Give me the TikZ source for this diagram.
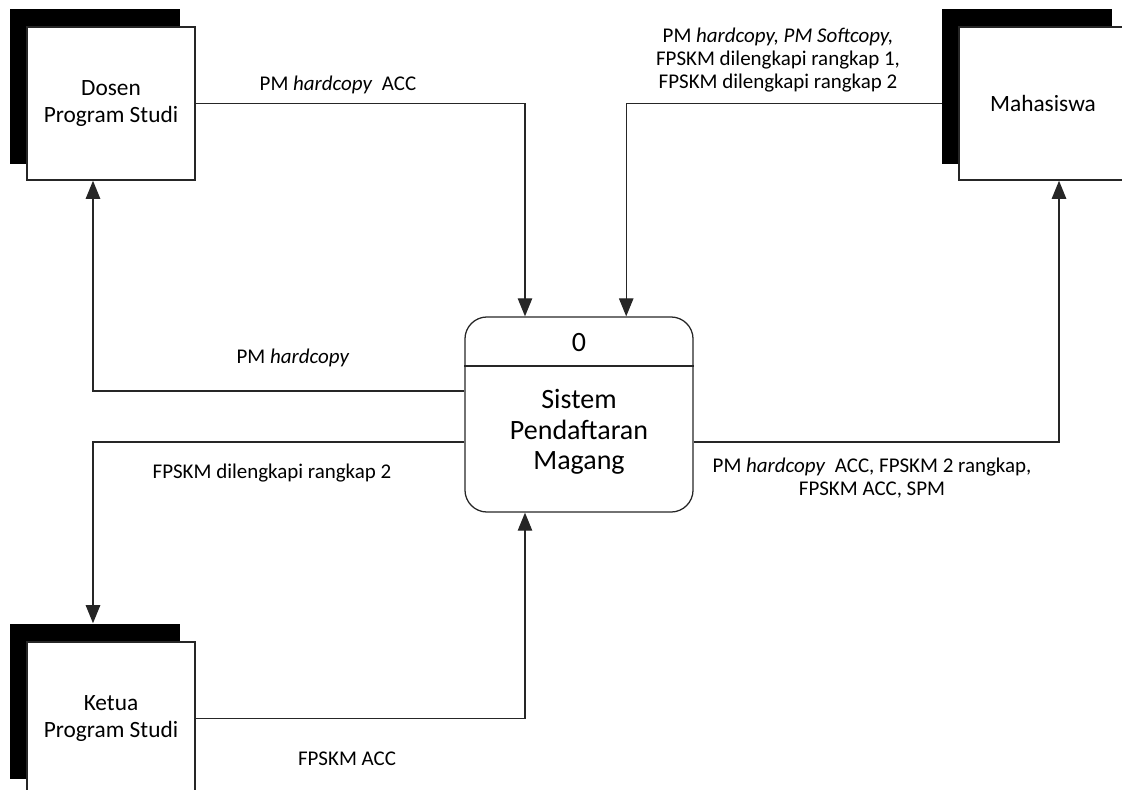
\documentclass[tikz,border=0pt]{standalone}
\usepackage{fontspec}
\setmainfont{Carlito}
\usetikzlibrary{arrows.meta,positioning,shadows}

\begin{document}
\begin{tikzpicture}[x=0.025cm,y=-0.025cm,
  entity/.style={draw=black!85,fill=white,line width=0.9pt,
               minimum width=4.2cm,minimum height=3.83cm,align=center,
               font=\fontsize{16.6}{19.5}\selectfont,
               general shadow={fill=black,draw=black,
                 shadow xshift=-0.4cm,shadow yshift=0.43cm}},
  proses/.style={draw=black!85,line width=0.9pt,rounded corners=0.55cm,
               minimum width=5.7cm,minimum height=4.875cm},
  lbl/.style={font=\fontsize{14.9}{16.6}\selectfont,align=center},
  flow/.style={-{Triangle[length=0.45cm,width=0.36cm]},line width=0.9pt,black!85}]

  \useasboundingbox (0,0) rectangle (1122,789);

  % external entities
  \node[entity] (dosen) at (111,103.5)  {Dosen\\Program Studi};
  \node[entity] (maha)  at (1043,103.5) {Mahasiswa};
  \node[entity] (ketua) at (111,718.5)  {Ketua\\Program Studi};

  % process 0
  \node[proses] (proc) at (579,414.5) {};
  \coordinate (divy) at (0,366);
  \draw[line width=0.9pt,black!85] (proc.west |- divy) -- (proc.east |- divy);
  \node[font=\fontsize{19.9}{21.5}\selectfont] (pnum) at (579,343) {0};
  \node[font=\fontsize{19.9}{21.5}\selectfont,align=center] (pname) at (579,432)
       {Sistem\\Pendaftaran\\Magang};

  % data flows
  \draw[flow] (dosen.east) -| ([xshift=-1.35cm]proc.north);
  \draw[flow] ([xshift=-0.4cm]maha.west) -| ([xshift=1.18cm]proc.north);
  \draw[flow] ([yshift=0.59cm]proc.west) -| ([xshift=-0.45cm]dosen.south);
  \draw[flow] ([yshift=-0.69cm]proc.west) -| ([xshift=-0.45cm,yshift=0.45cm]ketua.north);
  \draw[flow] (ketua.east) -| ([xshift=-1.35cm]proc.south);
  \draw[flow] ([yshift=-0.69cm]proc.east) -| ([xshift=0.4cm]maha.south);

  \node[lbl] (lbA) at (338,85)  {PM \textit{hardcopy}\ \ ACC};
  \node[lbl] (lbB) at (778,60)  {PM \textit{hardcopy, PM Softcopy,}\\FPSKM dilengkapi rangkap 1,\\FPSKM dilengkapi rangkap 2};
  \node[lbl] (lbC) at (293,358) {PM \textit{hardcopy}};
  \node[lbl] (lbD) at (272,473) {FPSKM dilengkapi rangkap 2};
  \node[lbl] (lbE) at (347,759) {FPSKM ACC};
  \node[lbl] (lbF) at (872,478) {PM \textit{hardcopy}\ \ ACC, FPSKM 2 rangkap,\\FPSKM ACC, SPM};
\end{tikzpicture}
\end{document}
